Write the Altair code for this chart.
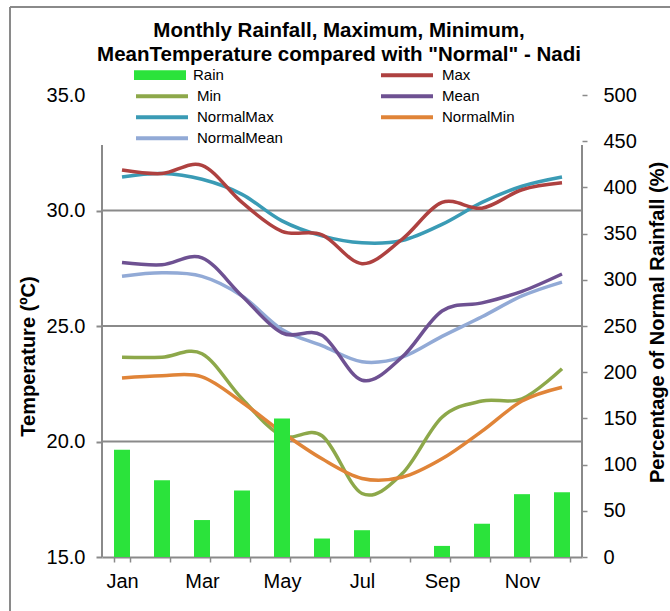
import altair as alt
import pandas as pd

# ---------------- data ----------------
months = ["Jan", "Feb", "Mar", "Apr", "May", "Jun", "Jul", "Aug", "Sep", "Oct", "Nov", "Dec"]
shown_months = ["Jan", "Mar", "May", "Jul", "Sep", "Nov"]

rain = [116, 83, 40, 72, 150, 20, 29, 0, 12, 36, 68, 70]

t_max = [31.75, 31.6, 31.95, 30.35, 29.1, 28.95, 27.7, 28.75, 30.35, 30.1, 30.9, 31.2]
t_min = [23.65, 23.65, 23.8, 21.85, 20.25, 20.25, 17.75, 18.6, 21.05, 21.75, 21.85, 23.15]
t_mean = [27.75, 27.65, 27.95, 26.3, 24.7, 24.6, 22.65, 23.65, 25.65, 26.0, 26.5, 27.25]
n_max = [31.45, 31.6, 31.35, 30.7, 29.55, 28.9, 28.6, 28.7, 29.4, 30.35, 31.05, 31.45]
n_min = [22.75, 22.85, 22.8, 21.7, 20.4, 19.25, 18.4, 18.45, 19.25, 20.45, 21.75, 22.35]
n_mean = [27.15, 27.3, 27.15, 26.3, 24.85, 24.15, 23.45, 23.65, 24.55, 25.4, 26.3, 26.9]

temp_ticks = [15, 20, 25, 30, 35]
grid_values = [20, 25, 30]
rain_ticks = list(range(0, 501, 50))

col1_series = ["Min", "NormalMax", "NormalMean"]
col1_colors = ["#8da84a", "#3a9bb5", "#92aad6"]
col2_series = ["Max", "Mean", "NormalMin"]
col2_colors = ["#ae4140", "#6e5192", "#e08438"]

title_lines = ["Monthly Rainfall, Maximum, Minimum,",
               "MeanTemperature compared with \"Normal\" - Nadi"]

# ---------------- helpers ----------------
def long_frame(names, arrays):
    rows = []
    for n, arr in zip(names, arrays):
        for m, v in zip(months, arr):
            rows.append({"month": m, "series": n, "temp": v})
    return pd.DataFrame(rows)

FONT = "Liberation Sans"
GRAY = "#8a8a8a"
W, H = 480, 462

x_enc = alt.X(
    "month:N", sort=months,
    scale=alt.Scale(domain=months, paddingInner=0.6, paddingOuter=0.3),
    axis=alt.Axis(
        title=None, labelAngle=0, labelFontSize=20, labelPadding=9,
        labelExpr="indexof(" + str(shown_months) + ", datum.value) >= 0 ? datum.value : ''",
        tickBand="extent", tickSize=5, tickColor=GRAY, tickWidth=1.5,
        domainColor=GRAY, domainWidth=2, grid=False,
    ),
)

temp_scale = alt.Scale(domain=[15, 35], nice=False, zero=False)
temp_axis = alt.Axis(
    title="Temperature (ºC)", values=temp_ticks, format=".1f", grid=False, domain=False,
    tickSize=6, tickColor=GRAY, tickWidth=2,
    tickOpacity={"condition": {"test": "datum.value == 35", "value": 0}, "value": 1},
    labelPadding=11, labelFontSize=20,
    titleFontSize=20, titleFontWeight="bold", titleX=-74, titleY=261,
    titleAngle=270, titleAlign="center", titleBaseline="middle",
)
y_temp = alt.Y("temp:Q", scale=temp_scale, axis=temp_axis)

line_legend_common = dict(
    orient="none", title=None, symbolType="stroke", symbolSize=2704,
    symbolStrokeWidth=4, labelFontSize=15, labelFont=FONT, labelColor="black",
    clipHeight=20.3, rowPadding=0, padding=0, labelOffset=7, direction="vertical",
)

grid = alt.Chart(pd.DataFrame({"temp": grid_values})).mark_rule(
    color=GRAY, strokeWidth=2
).encode(y=y_temp, x=alt.value(0), x2=alt.value(W))

lines_a = alt.Chart(long_frame(col1_series, [t_min, n_max, n_mean])).mark_line(
    interpolate="cardinal", strokeWidth=3.5
).encode(
    x=x_enc, y=y_temp,
    color=alt.Color("series:N", scale=alt.Scale(domain=col1_series, range=col1_colors),
                    legend=alt.Legend(legendX=32, legendY=-9, **line_legend_common)),
)

lines_b = alt.Chart(long_frame(col2_series, [t_max, t_mean, n_min])).mark_line(
    interpolate="cardinal", strokeWidth=3.5
).encode(
    x=x_enc, y=y_temp,
    stroke=alt.Stroke("series:N", scale=alt.Scale(domain=col2_series, range=col2_colors),
                      legend=alt.Legend(legendX=277, legendY=-30, **line_legend_common)),
)

rain_df = pd.DataFrame({"month": months, "rain": rain, "series": ["Rain"] * len(months)})
bars = alt.Chart(rain_df).mark_bar().encode(
    x=x_enc,
    y=alt.Y("rain:Q", scale=alt.Scale(domain=[0, 500], nice=False),
            axis=alt.Axis(
                orient="right", title="Percentage of Normal Rainfall (%)", values=rain_ticks,
                grid=False, domain=False, tickSize=5, tickColor=GRAY, tickWidth=1.5,
                labelPadding=16, labelFontSize=20,
                titleFontSize=20, titleFontWeight="bold", titleX=75, titleY=227,
                titleAngle=270, titleAlign="center", titleBaseline="middle",
            )),
    fill=alt.Fill("series:N", scale=alt.Scale(domain=["Rain"], range=["#2be33b"]),
                  legend=alt.Legend(orient="none", legendX=32, legendY=-30, title=None,
                                    symbolType="M-1,-0.19H1V0.19H-1Z", symbolSize=2704,
                                    symbolStrokeWidth=0, labelFontSize=15, labelFont=FONT,
                                    labelColor="black", clipHeight=20.3, padding=0,
                                    labelOffset=7)),
)

one = pd.DataFrame({"k": [0]})
left_axis_line = alt.Chart(one).mark_rule(color=GRAY, strokeWidth=2).encode(
    x=alt.value(0), y=alt.value(50), y2=alt.value(H))
right_axis_line = alt.Chart(one).mark_rule(color=GRAY, strokeWidth=2).encode(
    x=alt.value(W), y=alt.value(50), y2=alt.value(H))
border_left = alt.Chart(one).mark_rule(color=GRAY, strokeWidth=2).encode(
    x=alt.value(-92), y=alt.value(-88), y2=alt.value(H + 60))
border_top = alt.Chart(one).mark_rule(color=GRAY, strokeWidth=2).encode(
    x=alt.value(-92), x2=alt.value(W + 100), y=alt.value(-88))

left = alt.layer(grid, lines_a, lines_b)
right = alt.layer(bars, left_axis_line, right_axis_line, border_left, border_top)

chart = alt.layer(left, right).resolve_scale(y="independent").properties(
    width=W, height=H,
    autosize=alt.AutoSizeParams(type="none"),
    padding={"left": 102, "top": 95, "right": 88, "bottom": 54},
    title=alt.TitleParams(text=title_lines, fontSize=20.5, font=FONT, fontWeight="bold",
                          anchor="middle", lineHeight=24, color="black", dy=63, dx=-3),
    background="white",
).configure_view(stroke=None).configure_axis(
    labelFont=FONT, titleFont=FONT, labelColor="black", titleColor="black"
)

chart.save("out.html", embed_options={"renderer": "svg", "actions": False})
